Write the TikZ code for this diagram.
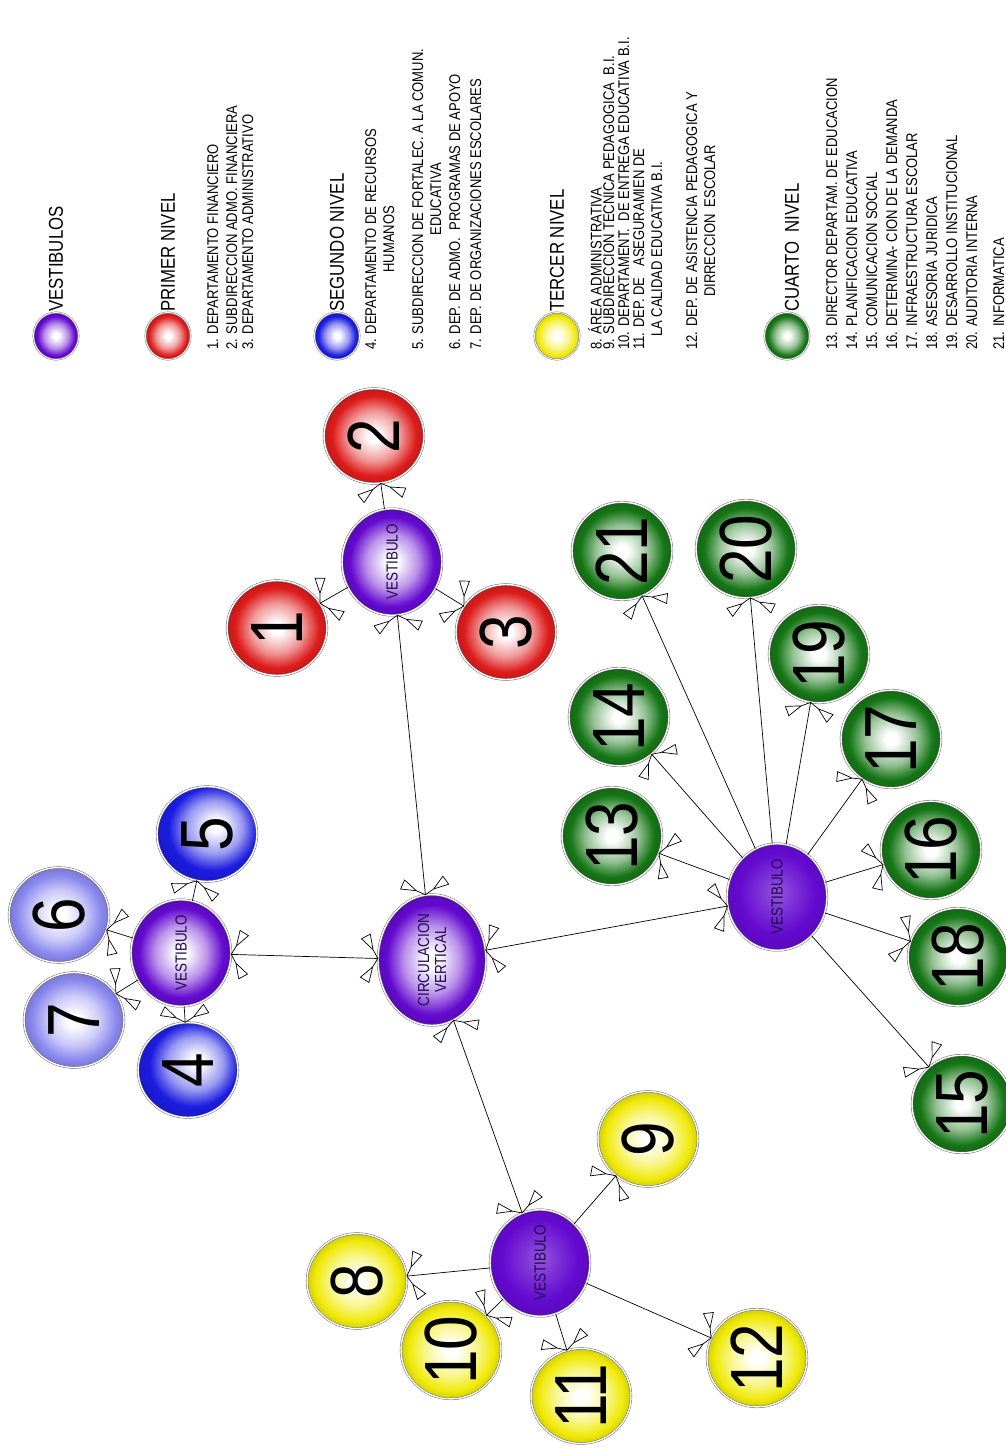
\documentclass[tikz,border=0pt]{standalone}
\usepackage{fontspec}
\setmainfont{Liberation Sans}[FakeStretch=0.84]
\usetikzlibrary{shapes.geometric,arrows.meta}

% colores de los niveles
\definecolor{hubviolet}{RGB}{100,10,208}
\definecolor{hubtext}{RGB}{30,10,70}
\definecolor{lvlred}{RGB}{222,28,28}
\definecolor{lvlblue}{RGB}{28,28,225}
\definecolor{lvlpale}{RGB}{138,136,238}
\definecolor{lvlyellow}{RGB}{240,234,10}
\definecolor{lvlgreen}{RGB}{22,118,22}

% esferas: centro blanco y borde saturado (el borde queda en 25bp)
\makeatletter
\pgfdeclareradialshading[tikz@ball]{glass}{\pgfpointorigin}{%
  color(0bp)=(white); color(3bp)=(white);
  color(13bp)=(tikz@ball!45!white); color(21bp)=(tikz@ball);
  color(25bp)=(tikz@ball!88!black); color(50bp)=(tikz@ball!88!black)}
\pgfdeclareradialshading[tikz@ball]{glassoff}{\pgfpoint{5bp}{5bp}}{%
  color(0bp)=(white); color(3bp)=(white);
  color(14bp)=(tikz@ball!45!white); color(22bp)=(tikz@ball);
  color(27bp)=(tikz@ball!90!black); color(50bp)=(tikz@ball!90!black)}
\pgfdeclareradialshading[tikz@ball]{dull}{\pgfpoint{0bp}{2.5bp}}{%
  color(0bp)=(tikz@ball!70!white); color(19bp)=(tikz@ball);
  color(25bp)=(tikz@ball!92!black); color(50bp)=(tikz@ball!92!black)}
\makeatother

% punta de flecha: dos ramas que terminan en triangulos abiertos
\pgfdeclarearrow{
  name = Fork,
  setup code = {
    \pgfarrowssettipend{0pt}
    \pgfarrowssetlineend{0pt}
    \pgfarrowssetbackend{-13pt}
    \pgfarrowssetvisualbackend{-13pt}
    \pgfarrowshullpoint{0pt}{0pt}
    \pgfarrowshullpoint{-17pt}{25pt}
    \pgfarrowshullpoint{-17pt}{-25pt}
  },
  drawing code = {
    \pgfsetdash{}{0pt}
    \pgfsetmiterjoin
    \pgfpathmoveto{\pgfpointorigin}
    \pgfpathlineto{\pgfpoint{-5pt}{8.7pt}}
    \pgfpathlineto{\pgfpoint{-8.2pt}{24.2pt}}
    \pgfpathlineto{\pgfpoint{-16.8pt}{19.2pt}}
    \pgfpathlineto{\pgfpoint{-5pt}{8.7pt}}
    \pgfpathmoveto{\pgfpointorigin}
    \pgfpathlineto{\pgfpoint{-5pt}{-8.7pt}}
    \pgfpathlineto{\pgfpoint{-8.2pt}{-24.2pt}}
    \pgfpathlineto{\pgfpoint{-16.8pt}{-19.2pt}}
    \pgfpathlineto{\pgfpoint{-5pt}{-8.7pt}}
    \pgfusepathqstroke
  }
}

\tikzset{
  dept/.style={ellipse, rotate=90, minimum width=95pt, minimum height=100pt,
    inner sep=0pt, draw=gray!75!black, double=white, double distance=1.4pt,
    line width=0.45pt, ball color=#1, shading=glass,
    font=\fontsize{74}{74}\selectfont},
  hall/.style={dept=hubviolet, minimum width=93pt, text=hubtext,
    font=\fontsize{16}{17}\selectfont, align=center},
  dimhall/.style={hall, shading=dull},
  key/.style={ellipse, minimum width=45pt, minimum height=47pt, inner sep=0pt,
    draw=gray!75!black, double=white, double distance=1pt, line width=0.4pt,
    ball color=#1, shading=glass},
  head/.style={rotate=90, anchor=west, inner sep=0pt,
    font=\fontsize{20}{22}\selectfont},
  item/.style={rotate=90, anchor=north west, inner sep=0pt, align=center,
    font=\fontsize{15.5}{18}\selectfont},
  link/.style={-Fork, line width=0.7pt},
  twoway/.style={Fork-Fork, line width=0.7pt}
}

\begin{document}
\begin{tikzpicture}[x=1pt, y=-1pt]
  \fill[white] (0,0) rectangle (1005,1448);
  \useasboundingbox (0,0) rectangle (1005,1448);

  % ---- leyenda ----
  \node[key=hubviolet] (kVest) at (56,336) {};
  \node[head] (tVest) at (56,312) {VESTIBULOS};

  \node[key=lvlred] (kPrim) at (168,336) {};
  \node[head] (tPrim) at (168,312) {PRIMER NIVEL};
  \node[item] (i1) at (207,350) {1. DEPARTAMENTO FINANCIERO};
  \node[item] (i2) at (226,350) {2. SUBDIRECCION ADMO. FINANCIERA};
  \node[item] (i3) at (242,350) {3. DEPARTAMENTO ADMINISTRATIVO};

  \node[key=lvlblue] (kSeg) at (337,336) {};
  \node[head] (tSeg) at (337,312) {SEGUNDO NIVEL};
  \node[item] (i4) at (365,350) {4. DEPARTAMENTO DE RECURSOS\\HUMANOS};
  \node[item] (i5) at (412,350) {5. SUBDIRECCION DE FORTALEC. A LA COMUN.\\EDUCATIVA};
  \node[item] (i6) at (449,350) {6. DEP. DE ADMO.~ PROGRAMAS DE APOYO};
  \node[item] (i7) at (470,350) {7. DEP. DE ORGANIZACIONES ESCOLARES};

  \node[key=lvlyellow] (kTer) at (557,336) {};
  \node[head] (tTer) at (557,312) {TERCER NIVEL};
  \node[item] (i8) at (588,350) {8. ÁREA ADMINISTRATIVA};
  \node[item] (i9) at (603,350) {9. SUBDIRECCION TECNICA PEDAGOGICA~ B.I.};
  \node[item] (i10) at (618,350) {10. DEPARTAMENT.~ DE ENTREGA EDUCATIVA B.I.};
  \node[item] (i11) at (633,350) {11. DEP. DE~~ ASEGURAMIEN DE\\LA CALIDAD EDUCATIVA B.I.};
  \node[item] (i12) at (686,350) {12. DEP. DE ASISTENCIA PEDAGOGICA Y\\DIRRECCION~ ESCOLAR};

  \node[key=lvlgreen] (kCua) at (787,336) {};
  \node[head] (tCua) at (792,312) {CUARTO~ NIVEL};
  \node[item] (i13) at (826,350) {13. DIRECTOR DEPARTAM. DE EDUCACION};
  \node[item] (i14) at (846,350) {14. PLANIFICACION EDUCATIVA};
  \node[item] (i15) at (866,350) {15. COMUNICACION SOCIAL};
  \node[item] (i16) at (886,350) {16. DETERMINA- CION DE LA DEMANDA};
  \node[item] (i17) at (906,350) {17. INFRAESTRUCTURA ESCOLAR};
  \node[item] (i18) at (926,350) {18. ASESORIA JURIDICA};
  \node[item] (i19) at (946,350) {19. DESARROLLO INSTITUCIONAL};
  \node[item] (i20) at (966,350) {20. AUDITORIA INTERNA};
  \node[item] (i21) at (993,350) {21. INFORMATICA};

  % ---- circulacion vertical y vestibulos ----
  \node[hall, minimum width=104pt, minimum height=108pt] (cv) at (432,960) {CIRCULACION\\VERTICAL};
  \node[hall] (hR) at (392,562) {VESTIBULO};
  \node[hall] (hB) at (181,953) {VESTIBULO};
  \node[dimhall] (hY) at (540,1263) {VESTIBULO};
  \node[dimhall] (hG) at (777,897) {VESTIBULO};

  % ---- primer nivel ----
  \node[dept=lvlred] (n1) at (277,628) {1};
  \node[dept=lvlred] (n2) at (374,436) {2};
  \node[dept=lvlred] (n3) at (506,632) {3};

  % ---- segundo nivel ----
  \node[dept=lvlblue, shading=glassoff] (n4) at (188,1070) {4};
  \node[dept=lvlblue, shading=glassoff] (n5) at (207,834) {5};
  \node[dept=lvlpale] (n6) at (59,915) {6};
  \node[dept=lvlpale] (n7) at (74,1020) {7};

  % ---- tercer nivel ----
  \node[dept=lvlyellow] (n8) at (357,1281) {8};
  \node[dept=lvlyellow] (n9) at (648,1139) {9};
  \node[dept=lvlyellow] (n10) at (451,1350) {10};
  \node[dept=lvlyellow] (n11) at (581,1396) {11};
  \node[dept=lvlyellow] (n12) at (757,1358) {12};

  % ---- cuarto nivel ----
  \node[dept=lvlgreen] (n13) at (612,836) {13};
  \node[dept=lvlgreen] (n14) at (619,717) {14};
  \node[dept=lvlgreen] (n15) at (962,1104) {15};
  \node[dept=lvlgreen] (n16) at (931,850) {16};
  \node[dept=lvlgreen] (n17) at (891,739) {17};
  \node[dept=lvlgreen] (n18) at (958,957) {18};
  \node[dept=lvlgreen] (n19) at (819,654) {19};
  \node[dept=lvlgreen] (n20) at (746,549) {20};
  \node[dept=lvlgreen] (n21) at (622,551) {21};

  % ---- conexiones ----
  \draw[twoway] (cv) -- (hR);
  \draw[twoway] (cv) -- (hB);
  \draw[twoway] (cv) -- (hY);
  \draw[twoway] (cv) -- (hG);

  \foreach \n in {n1,n2,n3} \draw[link] (hR) -- (\n);
  \foreach \n in {n4,n5,n6,n7} \draw[link] (hB) -- (\n);
  \foreach \n in {n8,n9,n10,n11,n12} \draw[link] (hY) -- (\n);
  \foreach \n in {n13,n14,n15,n16,n17,n18,n19,n20,n21} \draw[link] (hG) -- (\n);
\end{tikzpicture}
\end{document}
